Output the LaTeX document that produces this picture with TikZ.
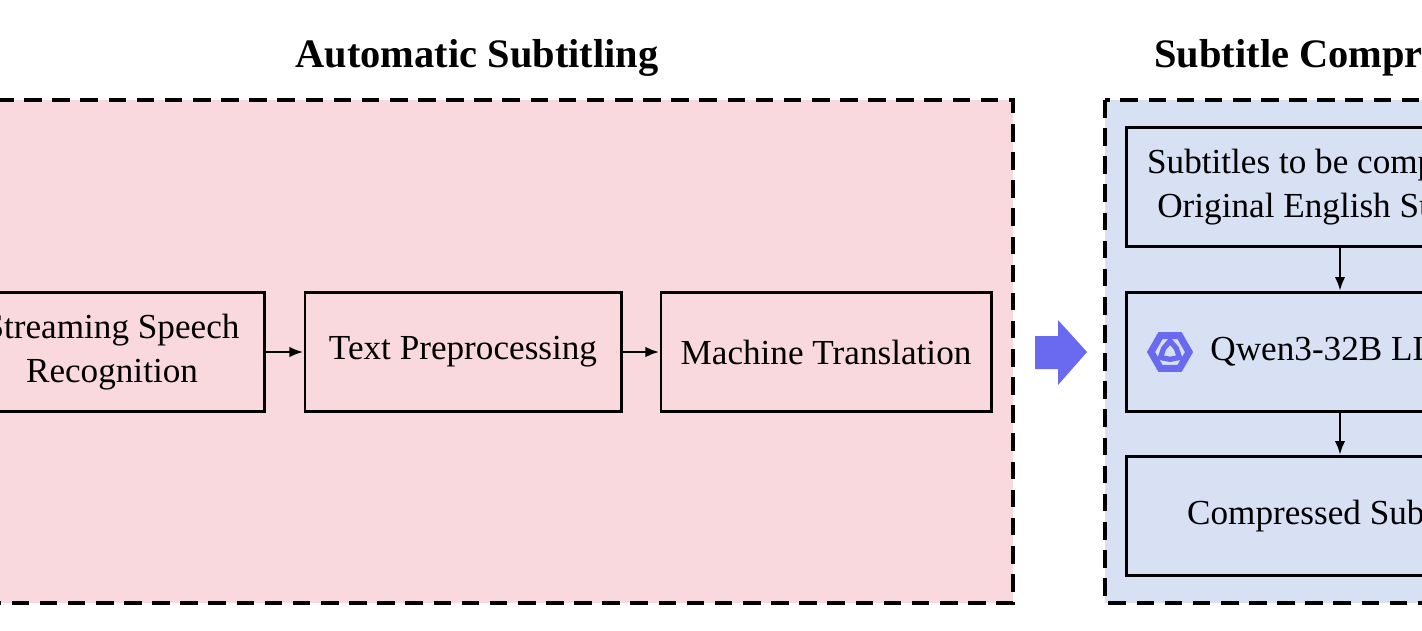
\documentclass[tikz,border=0pt]{standalone}
\usepackage{fontspec}
\setmainfont{Liberation Serif}
\usetikzlibrary{positioning,arrows.meta,shapes.geometric}
\definecolor{pinkbg}{HTML}{F9D9DE}
\definecolor{bluebg}{HTML}{D8E0F3}
\definecolor{arrowblue}{HTML}{6A6AF0}
\tikzset{
  stage/.style={draw=black,thick,fill=none,align=center,minimum height=1.19cm,inner sep=2pt,font=\fontsize{10}{12.5}\selectfont},
  group/.style={draw=black,line width=1.3pt,dash pattern=on 5pt off 3pt},
  title/.style={font=\fontsize{11.5}{13}\selectfont\bfseries},
  link/.style={-{Latex[length=4pt,width=3pt]},thick}
}
\begin{document}
\begin{tikzpicture}[x=0.01cm,y=-0.01cm]
\useasboundingbox (0,0) rectangle (1422,630);
\clip (0,0) rectangle (1422,630);
% groups
\draw[group,fill=pinkbg] (-20,100) rectangle (1013,603);
\draw[group,fill=bluebg] (1105,100) rectangle (1575,603);
\node[title] (t1) at (477,58) {Automatic Subtitling};
\node[title] (t2) at (1340,58) {Subtitle Compression};
% left pipeline
\node[stage,minimum width=3.05cm] (asr) at (112,352) {Streaming Speech\\Recognition};
\node[stage,minimum width=3.16cm] (pre) at (463,352) {Text Preprocessing};
\node[stage,minimum width=3.30cm] (mt) at (826,352) {Machine Translation};
\draw[link] (asr) -- (pre);
\draw[link] (pre) -- (mt);
% big arrow
\fill[arrowblue] (1035,336) -- (1058,336) -- (1058,320) -- (1087,352) -- (1058,385) -- (1058,369) -- (1035,369) -- cycle;
% right pipeline
\node[stage,minimum width=4.26cm] (src) at (1340,187) {Subtitles to be compressed:\\Original English Subtitles};
\node[stage,minimum width=4.26cm] (llm) at (1340,352) {};
\node[stage,minimum width=4.26cm] (out) at (1340,516) {Compressed Subtitles};
\draw[link] (src) -- (llm);
\draw[link] (llm) -- (out);
% icon and label
\node[regular polygon,regular polygon sides=6,draw=arrowblue,line width=2pt,minimum size=0.38cm,inner sep=0pt] (qwen) at (1170,352) {};
\node[star,star points=3,draw=arrowblue,line width=1.5pt,minimum size=0.22cm,inner sep=0pt] (qwenin) at (qwen) {};
\node[font=\fontsize{10}{12}\selectfont,anchor=west] (llmtext) at (1198,352) {Qwen3-32B LLM};
\end{tikzpicture}
\end{document}
